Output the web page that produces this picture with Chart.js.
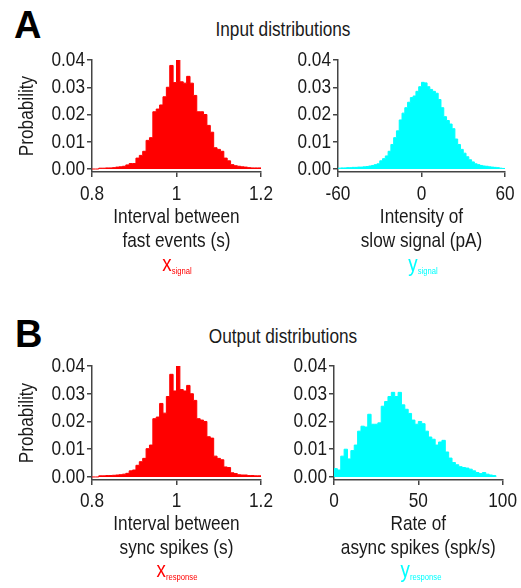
<!DOCTYPE html>
<html><head><meta charset="utf-8">
<script src="https://cdn.jsdelivr.net/npm/chart.js@4"></script>
<style>
body{margin:0;background:#fff;width:521px;height:588px;overflow:hidden;position:relative;font-family:'Liberation Sans',Arial,sans-serif;color:#1a1a1a}
canvas{position:absolute}
.t{position:absolute;white-space:nowrap;line-height:1}
.letter{font:bold 38px 'Liberation Sans',Arial,sans-serif;color:#000}
.title{font-size:21px;left:283px;transform:translateX(-50%) scaleX(0.82)}
.sub{position:absolute;white-space:nowrap;line-height:1;transform:translateX(-50%) scaleX(0.85);font-family:'Liberation Sans',Arial,sans-serif}
.sub .m{font-size:22px}
.sub .s{font-size:9px;position:relative;top:3px}
</style></head><body>
<div class="t letter" style="left:14px;top:4px">A</div>
<div class="t title" style="top:18px">Input distributions</div>
<div class="t letter" style="left:15px;top:313px">B</div>
<div class="t title" style="top:325px">Output distributions</div>

<canvas id="c1" style="left:0;top:45px;width:280px;height:240px" width="280" height="240"></canvas>
<canvas id="c2" style="left:285px;top:45px;width:236px;height:240px" width="236" height="240"></canvas>
<canvas id="c3" style="left:0;top:350px;width:280px;height:235px" width="280" height="235"></canvas>
<canvas id="c4" style="left:285px;top:350px;width:236px;height:235px" width="236" height="235"></canvas>

<div class="sub" style="left:177px;top:253px;color:#ff0000"><span class="m">x</span><span class="s">signal</span></div>
<div class="sub" style="left:423px;top:253px;color:#00ffff"><span class="m">y</span><span class="s">signal</span></div>
<div class="sub" style="left:177px;top:559px;color:#ff0000"><span class="m">x</span><span class="s">response</span></div>
<div class="sub" style="left:421px;top:559px;color:#00ffff"><span class="m">y</span><span class="s">response</span></div>

<script>
// ---- data (probability per bin) ----
const probTicks = [0, 0.01, 0.02, 0.03, 0.04];

const xSignalStart = 0.8, xSignalBin = 0.008;
const xSignalProb = [0,0,0.0003,0.0003,0.0004,0.0004,0.0005,0.0007,0.0008,0.001,
  0.0015,0.002,0.002,0.004,0.005,0.0065,0.0105,0.0115,0.021,0.022,
  0.0235,0.0265,0.030,0.038,0.0317,0.0406,0.032,0.0315,0.034,0.0315,
  0.027,0.021,0.021,0.020,0.016,0.0135,0.0078,0.0072,0.0065,0.004,
  0.003,0.0016,0.0012,0.001,0.0008,0.0007,0.0005,0.0004,0.0004,0.0004];
const xSignalTicks = [0.8, 1, 1.2];

const ySignalStart = -60, ySignalBin = 2;
const ySignalProb = [0.0003,0.0004,0.0004,0.0005,0.0005,0.0006,0.0006,0.0007,0.0007,0.0008,
  0.0009,0.0011,0.0013,0.0016,0.0019,0.0030,0.0038,0.0048,0.0065,0.0090,
  0.0115,0.0140,0.0180,0.0205,0.0225,0.0245,0.0262,0.0268,0.0285,0.0302,
  0.0318,0.0316,0.0302,0.0292,0.0285,0.0278,0.0255,0.0225,0.0192,0.0178,
  0.0165,0.0148,0.0110,0.0090,0.0072,0.0058,0.0045,0.0034,0.0026,0.0019,
  0.0016,0.0013,0.0011,0.0010,0.0008,0.0007,0.0006,0.0005,0.0003,0.0002];
const ySignalTicks = [-60, 0, 60];

const xResponseStart = 0.8, xResponseBin = 0.008;
const xResponseProb = [0,0,0.0004,0.0004,0.0005,0.0005,0.0006,0.0007,0.0008,0.001,
  0.0013,0.0022,0.0025,0.0042,0.0055,0.0067,0.0102,0.0115,0.021,0.0216,
  0.0265,0.023,0.029,0.037,0.031,0.040,0.0315,0.031,0.033,0.030,
  0.0276,0.021,0.0205,0.020,0.0145,0.014,0.0075,0.0067,0.0062,0.0036,
  0.0034,0.0015,0.0012,0.0008,0.0007,0.0007,0.0005,0.0005,0.0004,0.0004];
const xResponseTicks = [0.8, 1, 1.2];

const yResponseStart = 0, yResponseBin = 2;
const yResponseProb = [0.003,0.0025,0.0075,0.010,0.0065,0.0095,0.0115,0.0165,0.0183,0.018,
  0.0226,0.019,0.019,0.0195,0.0255,0.0272,0.029,0.0305,0.029,0.0305,
  0.026,0.0244,0.0229,0.0205,0.019,0.020,0.0192,0.0165,0.0144,0.0136,
  0.0115,0.0126,0.0132,0.009,0.0068,0.0052,0.0044,0.0037,0.0034,0.0032,
  0.0028,0.0022,0.0016,0.0012,0.0016,0.001,0.0007,0.0005];
const yResponseTicks = [0, 50, 100];

// ---- chart building ----
const FONT = "'Liberation Sans',Arial,sans-serif";
const AX = '#444';
const NARROW = 0.82;
Chart.defaults.font.family = FONT;
Chart.defaults.font.size = 21;
Chart.defaults.color = '#1a1a1a';

// render canvas text horizontally condensed (Arial Narrow look)
function condense(canvas, k){
  const c = canvas.getContext('2d');
  const P = CanvasRenderingContext2D.prototype;
  c.fillText = function(t, x, y){
    c.save(); c.translate(x, y); c.scale(k, 1); P.fillText.call(c, t, 0, 0); c.restore();
  };
  c.measureText = function(t){
    const m = P.measureText.call(c, t);
    return { width: m.width*k,
      actualBoundingBoxAscent: m.actualBoundingBoxAscent,
      actualBoundingBoxDescent: m.actualBoundingBoxDescent,
      actualBoundingBoxLeft: m.actualBoundingBoxLeft*k,
      actualBoundingBoxRight: m.actualBoundingBoxRight*k };
  };
  return canvas;
}

function histPoints(start, bin, vals){
  const pts = vals.map((v,i)=>({x: start + i*bin, y: v}));
  pts.push({x: start + vals.length*bin, y: 0});
  return pts;
}

function makeHist(id, start, bin, vals, color, xticks, L){
  const canvas = condense(document.getElementById(id), NARROW);
  new Chart(canvas, {
    type: 'line',
    data: { datasets: [{
      data: histPoints(start, bin, vals),
      stepped: true,
      fill: 'origin',
      backgroundColor: color,
      borderColor: color,
      borderWidth: 1,
      pointRadius: 0
    }]},
    options: {
      responsive: false,
      animation: false,
      events: [],
      layout: { padding: { top: L.padTop, right: L.padRight, left: 0, bottom: 0 } },
      plugins: { legend: {display:false}, tooltip: {enabled:false} },
      scales: {
        x: {
          type: 'linear',
          min: xticks[0], max: xticks[xticks.length-1],
          afterBuildTicks: s => { s.ticks = xticks.map(v=>({value:v})); },
          afterFit: s => { s.height = L.xHeight; },
          grid: { display:true, drawOnChartArea:false, drawTicks:true, tickLength:5, color:AX, lineWidth:1.5 },
          border: { display:true, color:AX, width:1.5 },
          ticks: { padding: L.tickPad, maxRotation:0, autoSkip:false, callback: v => String(v) },
          title: { display:true, text: L.xTitle, font:{size:21, lineHeight:1.15}, padding:{top:0, bottom:L.titlePad}, color:'#1a1a1a' }
        },
        y: {
          min: -0.0011, max: 0.04,
          afterBuildTicks: s => { s.ticks = probTicks.map(v=>({value:v})); },
          afterFit: s => { s.width = L.yWidth; },
          grid: { display:true, drawOnChartArea:false, drawTicks:true, tickLength:5, color:AX, lineWidth:1.5 },
          border: { display:true, color:AX, width:1.5 },
          ticks: { padding: 2, autoSkip:false, callback: v => v.toFixed(2) },
          title: { display: L.yTitle, text:'Probability', font:{size:21}, padding:{top:15, bottom:0}, color:'#1a1a1a' }
        }
      }
    }
  });
}

makeHist('c1', xSignalStart, xSignalBin, xSignalProb, '#ff0000', xSignalTicks,
  {padTop:15, padRight:19, xHeight:113, yWidth:92, titlePad:32, tickPad:5, yTitle:true, xTitle:['Interval between','fast events (s)']});
makeHist('c2', ySignalStart, ySignalBin, ySignalProb, '#00ffff', ySignalTicks,
  {padTop:15, padRight:16, xHeight:113, yWidth:53, titlePad:32, tickPad:5, yTitle:false, xTitle:['Intensity of','slow signal (pA)']});
makeHist('c3', xResponseStart, xResponseBin, xResponseProb, '#ff0000', xResponseTicks,
  {padTop:16, padRight:19, xHeight:105, yWidth:92, titlePad:25, tickPad:4, yTitle:true, xTitle:['Interval between','sync spikes (s)']});
makeHist('c4', yResponseStart, yResponseBin, yResponseProb, '#00ffff', yResponseTicks,
  {padTop:16, padRight:17, xHeight:105, yWidth:49, titlePad:25, tickPad:4, yTitle:false, xTitle:['Rate of','async spikes (spk/s)']});
</script>
</body></html>
